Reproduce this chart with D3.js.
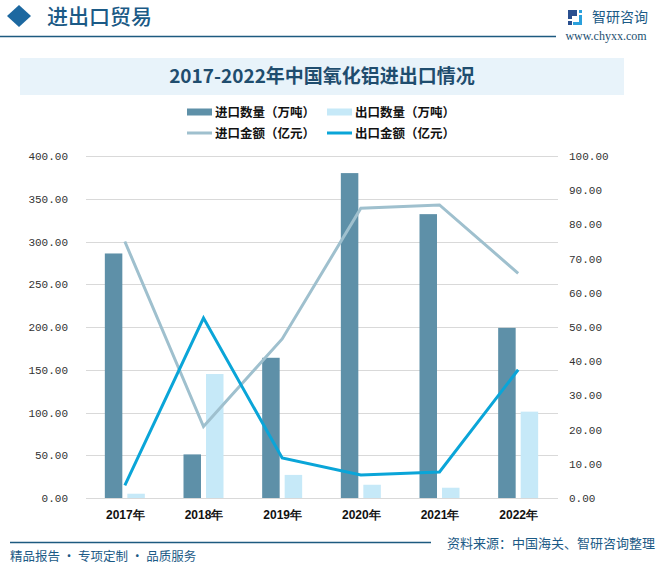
<!DOCTYPE html>
<html><head><meta charset="utf-8">
<script src="https://cdn.jsdelivr.net/npm/d3@7"></script>
<style>
html,body{margin:0;padding:0;background:#fff;}
svg{display:block;}
</style></head>
<body>
<svg id="chart" width="662" height="577"></svg>
<script>
const categories = ["2017年","2018年","2019年","2020年","2021年","2022年"];
const importQty = [286, 51, 164, 380, 332, 199];
const exportQty = [5, 145, 27, 15.5, 12, 101];
const importVal = [75.0, 20.9, 46.5, 84.7, 85.7, 65.7];
const exportVal = [3.7, 52.6, 11.7, 6.7, 7.6, 37.5];
const leftTicks = [0,50,100,150,200,250,300,350,400];
const rightTicks = [0,10,20,30,40,50,60,70,80,90,100];
const seriesNames = ["进口数量（万吨）","出口数量（万吨）","进口金额（亿元）","出口金额（亿元）"];

const C = {imp:"#5e90a8", exp:"#c6e9f8", impLine:"#9fc0ce", expLine:"#0aa5d8", dark:"#1b5a86"};
const cjk = "'Noto Sans CJK SC','Noto Sans',sans-serif";
const svg = d3.select("#chart");

// header
svg.append("path").attr("d","M19,5 L31,16 L19,27 L7,16 Z").attr("fill","#1c68a0");
svg.append("text").attr("x",47).attr("y",24).attr("font-family",cjk).attr("font-size",21)
  .attr("fill",C.dark).attr("font-weight","500").text("进出口贸易");
svg.append("line").attr("x1",0).attr("x2",556).attr("y1",36.5).attr("y2",36.5).attr("stroke","#1d5a80").attr("stroke-width",1.5);
// logo
const lg = svg.append("g").attr("transform","translate(568,10)");
lg.append("path").attr("d","M0,0 H9 V6 H4 V9 H0 Z").attr("fill","#2a4f8f");
lg.append("path").attr("d","M0,11 H4 V15 H0 Z").attr("fill","#2a4f8f");
lg.append("path").attr("d","M11,0 H14 V3 H11 Z").attr("fill","#2aa0dc");
lg.append("path").attr("d","M11,5 H14 V15 H5 V12 H11 Z").attr("fill","#2aa0dc");
svg.append("text").attr("x",592).attr("y",22).attr("font-family",cjk).attr("font-size",14)
  .attr("fill",C.dark).text("智研咨询");
svg.append("text").attr("x",606).attr("y",40).attr("text-anchor","middle")
  .attr("font-family","'Liberation Serif','DejaVu Serif',serif").attr("font-size",12)
  .attr("fill","#1d4f70").text("www.chyxx.com");

// title band
svg.append("rect").attr("x",20).attr("y",58).attr("width",604).attr("height",37).attr("fill","#e8f3fa");
svg.append("text").attr("x",322).attr("y",83).attr("text-anchor","middle").attr("font-family",cjk)
  .attr("font-weight","bold").attr("font-size",19).attr("fill","#1f4d6e").text("2017-2022年中国氧化铝进出口情况");

// legend
const legendItems = [
  {name:seriesNames[0], type:"bar", color:C.imp, x:187, y:112},
  {name:seriesNames[1], type:"bar", color:C.exp, x:327, y:112},
  {name:seriesNames[2], type:"line", color:C.impLine, x:187, y:133},
  {name:seriesNames[3], type:"line", color:C.expLine, x:327, y:133}
];
legendItems.forEach(d=>{
  if(d.type==="bar") svg.append("rect").attr("x",d.x).attr("y",d.y-3.5).attr("width",25).attr("height",7).attr("fill",d.color);
  else svg.append("rect").attr("x",d.x).attr("y",d.y-1.5).attr("width",25).attr("height",3).attr("fill",d.color);
  svg.append("text").attr("x",d.x+28).attr("y",d.y+4.5).attr("font-family",cjk).attr("font-weight","bold")
    .attr("font-size",12.5).attr("fill","#111").text(d.name);
});

// plot
const L=86, R=558, T=156, B=498;
const x = d3.scaleBand().domain(categories).range([L,R]);
const yL = d3.scaleLinear().domain([0,400]).range([B,T]);
const yR = d3.scaleLinear().domain([0,100]).range([B,T]);

svg.append("g").selectAll("line").data(leftTicks).join("line")
  .attr("x1",L).attr("x2",R).attr("y1",d=>Math.round(yL(d))+0.5).attr("y2",d=>Math.round(yL(d))+0.5)
  .attr("stroke","#d9d9d9").attr("stroke-width",1);

const axL = svg.append("g").attr("transform",`translate(${L-16},0)`)
  .call(d3.axisLeft(yL).tickValues(leftTicks).tickFormat(d3.format(".2f")).tickSize(0));
const axR = svg.append("g").attr("transform",`translate(${R+11},0)`)
  .call(d3.axisRight(yR).tickValues(rightTicks).tickFormat(d3.format(".2f")).tickSize(0));
[axL,axR].forEach(a=>{
  a.select(".domain").remove();
  a.selectAll("text").attr("font-family","'Liberation Mono','DejaVu Sans Mono',monospace")
    .attr("font-size",11).attr("fill","#333").attr("dx",0);
});
axL.selectAll("text").attr("x",-2);
axR.selectAll("text").attr("x",0);

const axX = svg.append("g").attr("transform",`translate(0,${B})`).call(d3.axisBottom(x).tickSize(0));
axX.select(".domain").remove();
axX.selectAll("text").attr("font-family","'Liberation Sans',Arial,sans-serif").attr("font-weight","bold")
  .attr("font-size",12).attr("fill","#111").attr("y",12);

const bw = 17.5, gap = 2.5;
const cx = d => x(d) + x.bandwidth()/2 - 0.5;
svg.append("g").selectAll("rect").data(categories).join("rect")
  .attr("x",d=>cx(d)-gap-bw).attr("width",bw)
  .attr("y",(d,i)=>yL(importQty[i])).attr("height",(d,i)=>B-yL(importQty[i])).attr("fill",C.imp);
svg.append("g").selectAll("rect").data(categories).join("rect")
  .attr("x",d=>cx(d)+gap).attr("width",bw)
  .attr("y",(d,i)=>yL(exportQty[i])).attr("height",(d,i)=>B-yL(exportQty[i])).attr("fill",C.exp);

const line = d3.line().x(d=>cx(d[0])).y(d=>yR(d[1]));
svg.append("path").datum(categories.map((c,i)=>[c,importVal[i]])).attr("d",line)
  .attr("fill","none").attr("stroke",C.impLine).attr("stroke-width",3);
svg.append("path").datum(categories.map((c,i)=>[c,exportVal[i]])).attr("d",line)
  .attr("fill","none").attr("stroke",C.expLine).attr("stroke-width",3);

// footer
svg.append("line").attr("x1",10).attr("x2",431).attr("y1",542.5).attr("y2",542.5).attr("stroke","#1d5a80").attr("stroke-width",1.5);
svg.append("text").attr("x",10).attr("y",561).attr("font-family",cjk).attr("font-size",12.5)
  .attr("fill",C.dark).text("精品报告 · 专项定制 · 品质服务");
svg.append("text").attr("x",655).attr("y",548).attr("text-anchor","end").attr("font-family",cjk).attr("font-size",13)
  .attr("fill",C.dark).text("资料来源：中国海关、智研咨询整理");
</script>
</body></html>
